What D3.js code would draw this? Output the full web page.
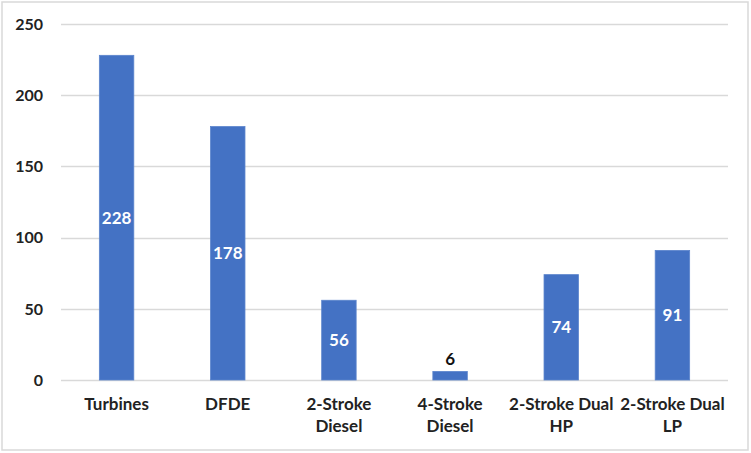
<!DOCTYPE html>
<html lang="en">
<head>
<meta charset="UTF-8">
<title>Engine types</title>
<script src="https://d3js.org/d3.v7.min.js"></script>
<style>
body{margin:0; background:#fff;}
svg{display:block;}
</style>
</head>
<body>
<div id="chart"></div>
<script>
// data
var categories = [["Turbines"], ["DFDE"], ["2-Stroke", "Diesel"], ["4-Stroke", "Diesel"], ["2-Stroke Dual", "HP"], ["2-Stroke Dual", "LP"]];
var values = [228, 178, 56, 6, 74, 91];
var yTicks = [0, 50, 100, 150, 200, 250];

var w = 751, h = 453;
var margin = {top: 24, right: 23, bottom: 73, left: 61};
var font = "Lato, 'Open Sans', sans-serif";

var svg = d3.select("#chart").append("svg")
	.attr("width", w)
	.attr("height", h);

// outer frame
svg.append("rect")
	.attr("x", 2).attr("y", 2)
	.attr("width", w - 5).attr("height", h - 5)
	.attr("fill", "#fff")
	.attr("stroke", "#d9d9d9")
	.attr("stroke-width", 1.5);

var x = d3.scaleBand()
	.domain(d3.range(values.length))
	.range([margin.left, w - margin.right])
	.paddingInner(0.69)
	.paddingOuter(0.345);

var y = d3.scaleLinear()
	.domain([0, 250])
	.range([h - margin.bottom, margin.top]);

// gridlines
svg.append("g").selectAll("line")
	.data(yTicks)
	.enter()
	.append("line")
	.attr("x1", margin.left)
	.attr("x2", w - margin.right)
	.attr("y1", function(d){ return Math.round(y(d)) + 0.5; })
	.attr("y2", function(d){ return Math.round(y(d)) + 0.5; })
	.attr("stroke", "#d9d9d9")
	.attr("stroke-width", 1.5);

// y labels
svg.append("g").selectAll("text")
	.data(yTicks)
	.enter()
	.append("text")
	.attr("x", 43)
	.attr("y", function(d){ return y(d); })
	.attr("dy", "0.36em")
	.attr("text-anchor", "end")
	.attr("font-family", font)
	.attr("font-weight", "bold")
	.attr("font-size", "16px")
	.attr("fill", "#222")
	.text(function(d){ return d; });

// bars
svg.append("g").selectAll("rect")
	.data(values)
	.enter()
	.append("rect")
	.attr("x", function(d, i){ return x(i); })
	.attr("y", function(d){ return y(d); })
	.attr("width", x.bandwidth())
	.attr("height", function(d){ return y(0) - y(d); })
	.attr("fill", "#4472c4")
	.attr("stroke", "#5b84cc")
	.attr("stroke-width", 0.8);

// value labels: inside the bar, or above if the bar is too short
svg.append("g").selectAll("text")
	.data(values)
	.enter()
	.append("text")
	.attr("x", function(d, i){ return x(i) + x.bandwidth() / 2; })
	.attr("y", function(d){
		if(y(0) - y(d) < 24){
			return y(d) - 6;
		}else{
			return y(d / 2);
		}
	})
	.attr("dy", function(d){ return (y(0) - y(d) < 24) ? "0" : "0.36em"; })
	.attr("text-anchor", "middle")
	.attr("font-family", font)
	.attr("font-weight", "bold")
	.attr("font-size", "17px")
	.attr("fill", function(d){ return (y(0) - y(d) < 24) ? "#111" : "#fff"; })
	.text(function(d){ return d; });

// category labels
var cats = svg.append("g").selectAll("text")
	.data(categories)
	.enter()
	.append("text")
	.attr("x", function(d, i){ return x(i) + x.bandwidth() / 2; })
	.attr("y", 410)
	.attr("text-anchor", "middle")
	.attr("font-family", font)
	.attr("font-weight", "bold")
	.attr("font-size", "17px")
	.attr("fill", "#222");

cats.selectAll("tspan")
	.data(function(d){ return d; })
	.enter()
	.append("tspan")
	.attr("x", function(){ return d3.select(this.parentNode).attr("x"); })
	.attr("dy", function(d, i){ return i === 0 ? 0 : 22; })
	.text(function(d){ return d; });
</script>
</body>
</html>
